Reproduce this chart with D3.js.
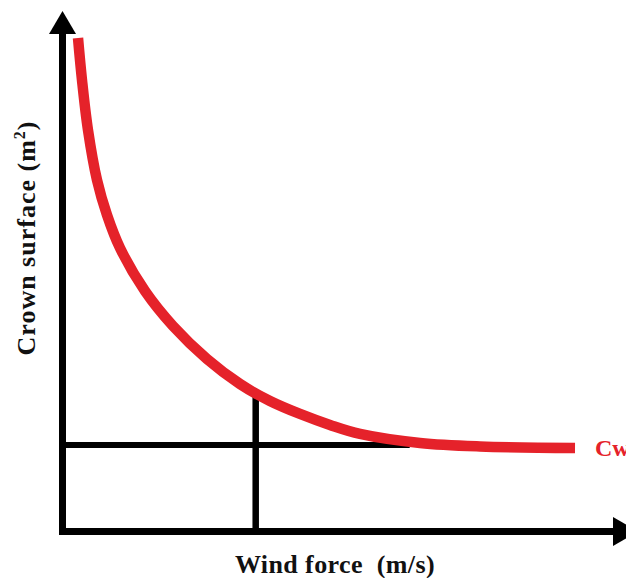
<!DOCTYPE html>
<html><head><meta charset="utf-8">
<script src="https://cdn.jsdelivr.net/npm/d3@7"></script>
<style>html,body{margin:0;padding:0;background:#fff;}svg{display:block;}</style>
</head><body>
<svg id="c" width="626" height="578"></svg>
<script>
// Wind force (arbitrary units 0-100) vs crown surface (arbitrary units 0-100)
const windForce    = [2.77, 3.48, 4.55, 6.16, 7.95, 10.27, 14.73, 19.73, 25.80, 31.70, 37.05, 42.41, 47.77, 53.13, 63.84, 74.55, 91.52];
const crownSurface = [95.09, 87.0, 77.36, 67.73, 60.98, 54.62, 46.34, 39.60, 33.24, 28.42, 25.14, 22.64, 20.52, 18.79, 17.05, 16.38, 16.09];
const refLevel = 16.67;     // horizontal reference line (Cw level)
const refLineEndX = 62;     // horizontal line end (wind units)
const refWind = 34.5;       // vertical reference line
const refWindY = 26.1;      // where the vertical line meets the curve
const curveLabel = "Cw";
const xTitle = "Wind force  (m/s)";
const yTitle = "Crown surface (m";

const svg = d3.select("#c");
const x = d3.scaleLinear().domain([0, 100]).range([62.5, 622.5]);
const y = d3.scaleLinear().domain([0, 100]).range([531.5, 12.5]);

// axes
const axisW = 7;
svg.append("line").attr("x1", x(0)).attr("x2", x(0)).attr("y1", y(0) + axisW/2).attr("y2", 32)
  .attr("stroke", "#000").attr("stroke-width", axisW);
svg.append("path").attr("d", `M${x(0)},11 L${x(0)-13.5},34 L${x(0)+13.5},34 Z`).attr("fill", "#000");
svg.append("line").attr("x1", x(0) - axisW/2).attr("x2", 614).attr("y1", y(0)).attr("y2", y(0))
  .attr("stroke", "#000").attr("stroke-width", axisW);
svg.append("path").attr("d", `M613,${y(0)-14.5} L638,${y(0)} L613,${y(0)+14.5} Z`).attr("fill", "#000");

// reference lines
svg.append("line").attr("x1", x(0)).attr("x2", x(refLineEndX)).attr("y1", y(refLevel)).attr("y2", y(refLevel))
  .attr("stroke", "#000").attr("stroke-width", 6);
svg.append("line").attr("x1", x(refWind)).attr("x2", x(refWind)).attr("y1", y(0)).attr("y2", y(refWindY))
  .attr("stroke", "#000").attr("stroke-width", 6.5);

// curve
const pts = windForce.map((d, i) => [d, crownSurface[i]]);
const line = d3.line().x(d => x(d[0])).y(d => y(d[1])).curve(d3.curveCatmullRom.alpha(0.5));
svg.append("path").attr("d", line(pts)).attr("fill", "none")
  .attr("stroke", "#e5222a").attr("stroke-width", 10.5).attr("stroke-linecap", "butt");

// label
svg.append("text").attr("x", 595).attr("y", 456).attr("fill", "#e5222a")
  .attr("font-family", "Liberation Serif, Times New Roman, serif").attr("font-weight", "bold")
  .attr("font-size", 24).text(curveLabel);

// titles
svg.append("text").attr("x", 335).attr("y", 573).attr("text-anchor", "middle")
  .attr("font-family", "Liberation Serif, Times New Roman, serif").attr("font-weight", "bold")
  .attr("font-size", 26).attr("letter-spacing", 0.4).style("white-space", "pre")
  .attr("fill", "#111").text(xTitle);
const yt = svg.append("text").attr("transform", "translate(35,238) rotate(-90)").attr("text-anchor", "middle")
  .attr("font-family", "Liberation Serif, Times New Roman, serif").attr("font-weight", "bold")
  .attr("font-size", 26).attr("letter-spacing", 1).attr("fill", "#111");
yt.append("tspan").text(yTitle);
yt.append("tspan").attr("font-size", 16).attr("dy", -10).text("2");
yt.append("tspan").attr("dy", 10).text(")");
</script>
</body></html>
